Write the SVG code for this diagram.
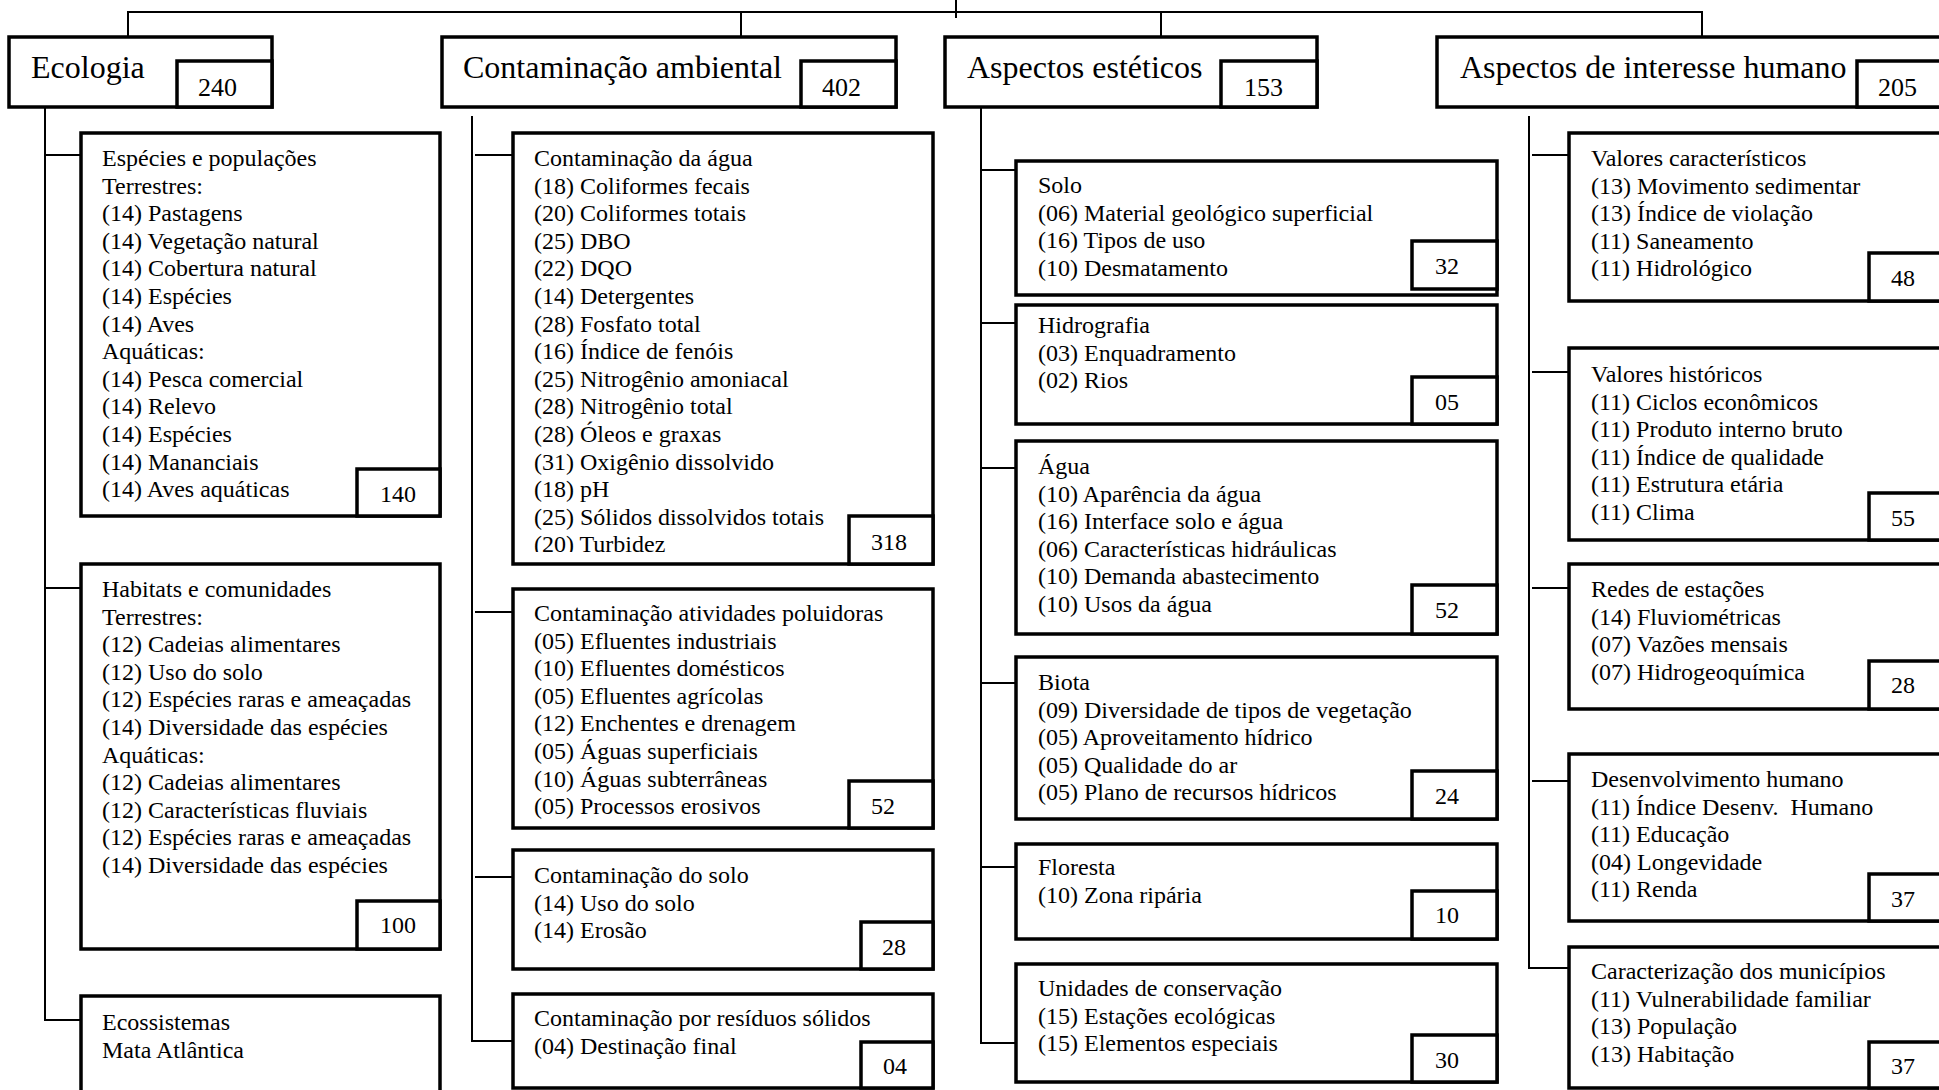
<svg xmlns="http://www.w3.org/2000/svg" width="1939" height="1090" viewBox="0 0 1939 1090">
<style>
.box{fill:#fff;stroke:#000;stroke-width:3.5}
.con{fill:none;stroke:#000;stroke-width:2}
.h{font-family:"Liberation Serif","Times New Roman",serif;font-size:32px;fill:#000}
.hn{font-family:"Liberation Serif","Times New Roman",serif;font-size:26px;fill:#000}
.t{font-family:"Liberation Serif","Times New Roman",serif;font-size:24px;fill:#000;white-space:pre}
.n{font-family:"Liberation Serif","Times New Roman",serif;font-size:24px;fill:#000}
</style>
<defs>
<clipPath id="clipAgua"><rect x="513" y="133" width="420" height="419"/></clipPath>
</defs>
<rect width="1939" height="1090" fill="#fff"/>

<g id="connectors">
<path class="con" d="M956 0 V18 M128 37 V12 H1702 V37 M741 12 V37 M1161 12 V37"/>
<path class="con" d="M45 107 V1020 H81 M45 155 H81 M45 588 H81"/>
<path class="con" d="M472 116 V1041 H513 M475 155 H513 M475 612 H513 M475 877 H513"/>
<path class="con" d="M981 107 V1043 H1016 M981 170 H1016 M981 323 H1016 M981 468 H1016 M981 683 H1016 M981 867 H1016"/>
<path class="con" d="M1529 116 V968 H1569 M1532 155 H1569 M1532 372 H1569 M1532 588 H1569 M1532 781 H1569"/>
</g>

<!-- Ecologia -->
<g id="ecologia">
<rect class="box" x="9" y="37" width="263" height="70"/>
<rect class="box" x="177" y="61" width="95" height="46"/>
<text class="h" x="31" y="78">Ecologia</text>
<text class="hn" x="198" y="96">240</text>
</g>
<g id="especies-populacoes">
<rect class="box" x="81" y="133" width="359" height="383"/>
<rect class="box" x="357" y="469" width="83" height="47"/>
<text class="t" x="102" y="166"><tspan x="102">Espécies e populações</tspan><tspan x="102" dy="27.6">Terrestres:</tspan><tspan x="102" dy="27.6">(14) Pastagens</tspan><tspan x="102" dy="27.6">(14) Vegetação natural</tspan><tspan x="102" dy="27.6">(14) Cobertura natural</tspan><tspan x="102" dy="27.6">(14) Espécies</tspan><tspan x="102" dy="27.6">(14) Aves</tspan><tspan x="102" dy="27.6">Aquáticas:</tspan><tspan x="102" dy="27.6">(14) Pesca comercial</tspan><tspan x="102" dy="27.6">(14) Relevo</tspan><tspan x="102" dy="27.6">(14) Espécies</tspan><tspan x="102" dy="27.6">(14) Mananciais</tspan><tspan x="102" dy="27.6">(14) Aves aquáticas</tspan></text>
<text class="n" x="380" y="502">140</text>
</g>
<g id="habitats-comunidades">
<rect class="box" x="81" y="564" width="359" height="385"/>
<rect class="box" x="357" y="901" width="83" height="48"/>
<text class="t" x="102" y="597"><tspan x="102">Habitats e comunidades</tspan><tspan x="102" dy="27.6">Terrestres:</tspan><tspan x="102" dy="27.6">(12) Cadeias alimentares</tspan><tspan x="102" dy="27.6">(12) Uso do solo</tspan><tspan x="102" dy="27.6">(12) Espécies raras e ameaçadas</tspan><tspan x="102" dy="27.6">(14) Diversidade das espécies</tspan><tspan x="102" dy="27.6">Aquáticas:</tspan><tspan x="102" dy="27.6">(12) Cadeias alimentares</tspan><tspan x="102" dy="27.6">(12) Características fluviais</tspan><tspan x="102" dy="27.6">(12) Espécies raras e ameaçadas</tspan><tspan x="102" dy="27.6">(14) Diversidade das espécies</tspan></text>
<text class="n" x="380" y="933">100</text>
</g>
<g id="ecossistemas">
<rect class="box" x="81" y="996" width="359" height="130"/>
<text class="t" x="102" y="1030"><tspan x="102">Ecossistemas</tspan><tspan x="102" dy="27.6">Mata Atlântica</tspan></text>
</g>

<!-- Contaminação -->
<g id="contaminacao-ambiental">
<rect class="box" x="442" y="37" width="454" height="70"/>
<rect class="box" x="801" y="61" width="95" height="46"/>
<text class="h" x="463" y="78">Contaminação ambiental</text>
<text class="hn" x="822" y="96">402</text>
</g>
<g id="contaminacao-agua">
<rect class="box" x="513" y="133" width="420" height="431"/>
<text class="t" x="534" y="166" clip-path="url(#clipAgua)"><tspan x="534">Contaminação da água</tspan><tspan x="534" dy="27.6">(18) Coliformes fecais</tspan><tspan x="534" dy="27.6">(20) Coliformes totais</tspan><tspan x="534" dy="27.6">(25) DBO</tspan><tspan x="534" dy="27.6">(22) DQO</tspan><tspan x="534" dy="27.6">(14) Detergentes</tspan><tspan x="534" dy="27.6">(28) Fosfato total</tspan><tspan x="534" dy="27.6">(16) Índice de fenóis</tspan><tspan x="534" dy="27.6">(25) Nitrogênio amoniacal</tspan><tspan x="534" dy="27.6">(28) Nitrogênio total</tspan><tspan x="534" dy="27.6">(28) Óleos e graxas</tspan><tspan x="534" dy="27.6">(31) Oxigênio dissolvido</tspan><tspan x="534" dy="27.6">(18) pH</tspan><tspan x="534" dy="27.6">(25) Sólidos dissolvidos totais</tspan><tspan x="534" dy="27.6">(20) Turbidez</tspan></text>
<rect class="box" x="849" y="516" width="84" height="48"/>
<text class="n" x="871" y="550">318</text>
</g>
<g id="contaminacao-atividades">
<rect class="box" x="513" y="589" width="420" height="239"/>
<rect class="box" x="849" y="781" width="84" height="47"/>
<text class="t" x="534" y="621"><tspan x="534">Contaminação atividades poluidoras</tspan><tspan x="534" dy="27.6">(05) Efluentes industriais</tspan><tspan x="534" dy="27.6">(10) Efluentes domésticos</tspan><tspan x="534" dy="27.6">(05) Efluentes agrícolas</tspan><tspan x="534" dy="27.6">(12) Enchentes e drenagem</tspan><tspan x="534" dy="27.6">(05) Águas superficiais</tspan><tspan x="534" dy="27.6">(10) Águas subterrâneas</tspan><tspan x="534" dy="27.6">(05) Processos erosivos</tspan></text>
<text class="n" x="871" y="814">52</text>
</g>
<g id="contaminacao-solo">
<rect class="box" x="513" y="850" width="420" height="119"/>
<rect class="box" x="861" y="922" width="72" height="47"/>
<text class="t" x="534" y="883"><tspan x="534">Contaminação do solo</tspan><tspan x="534" dy="27.6">(14) Uso do solo</tspan><tspan x="534" dy="27.6">(14) Erosão</tspan></text>
<text class="n" x="882" y="955">28</text>
</g>
<g id="contaminacao-residuos">
<rect class="box" x="513" y="994" width="420" height="94"/>
<rect class="box" x="861" y="1042" width="72" height="46"/>
<text class="t" x="534" y="1026"><tspan x="534">Contaminação por resíduos sólidos</tspan><tspan x="534" dy="27.6">(04) Destinação final</tspan></text>
<text class="n" x="883" y="1074">04</text>
</g>

<!-- Aspectos estéticos -->
<g id="aspectos-esteticos">
<rect class="box" x="945" y="37" width="372" height="70"/>
<rect class="box" x="1221" y="61" width="96" height="46"/>
<text class="h" x="967" y="78">Aspectos estéticos</text>
<text class="hn" x="1244" y="96">153</text>
</g>
<g id="solo">
<rect class="box" x="1016" y="161" width="481" height="134"/>
<rect class="box" x="1412" y="241" width="85" height="48"/>
<text class="t" x="1038" y="193"><tspan x="1038">Solo</tspan><tspan x="1038" dy="27.6">(06) Material geológico superficial</tspan><tspan x="1038" dy="27.6">(16) Tipos de uso</tspan><tspan x="1038" dy="27.6">(10) Desmatamento</tspan></text>
<text class="n" x="1435" y="274">32</text>
</g>
<g id="hidrografia">
<rect class="box" x="1016" y="305" width="481" height="119"/>
<rect class="box" x="1412" y="377" width="85" height="47"/>
<text class="t" x="1038" y="333"><tspan x="1038">Hidrografia</tspan><tspan x="1038" dy="27.6">(03) Enquadramento</tspan><tspan x="1038" dy="27.6">(02) Rios</tspan></text>
<text class="n" x="1435" y="410">05</text>
</g>
<g id="agua">
<rect class="box" x="1016" y="441" width="481" height="193"/>
<rect class="box" x="1412" y="585" width="85" height="49"/>
<text class="t" x="1038" y="474"><tspan x="1038">Água</tspan><tspan x="1038" dy="27.6">(10) Aparência da água</tspan><tspan x="1038" dy="27.6">(16) Interface solo e água</tspan><tspan x="1038" dy="27.6">(06) Características hidráulicas</tspan><tspan x="1038" dy="27.6">(10) Demanda abastecimento</tspan><tspan x="1038" dy="27.6">(10) Usos da água</tspan></text>
<text class="n" x="1435" y="618">52</text>
</g>
<g id="biota">
<rect class="box" x="1016" y="657" width="481" height="162"/>
<rect class="box" x="1412" y="771" width="85" height="48"/>
<text class="t" x="1038" y="690"><tspan x="1038">Biota</tspan><tspan x="1038" dy="27.6">(09) Diversidade de tipos de vegetação</tspan><tspan x="1038" dy="27.6">(05) Aproveitamento hídrico</tspan><tspan x="1038" dy="27.6">(05) Qualidade do ar</tspan><tspan x="1038" dy="27.6">(05) Plano de recursos hídricos</tspan></text>
<text class="n" x="1435" y="804">24</text>
</g>
<g id="floresta">
<rect class="box" x="1016" y="844" width="481" height="95"/>
<rect class="box" x="1412" y="891" width="85" height="48"/>
<text class="t" x="1038" y="875"><tspan x="1038">Floresta</tspan><tspan x="1038" dy="27.6">(10) Zona ripária</tspan></text>
<text class="n" x="1435" y="923">10</text>
</g>
<g id="unidades-conservacao">
<rect class="box" x="1016" y="964" width="481" height="118"/>
<rect class="box" x="1412" y="1035" width="85" height="47"/>
<text class="t" x="1038" y="996"><tspan x="1038">Unidades de conservação</tspan><tspan x="1038" dy="27.6">(15) Estações ecológicas</tspan><tspan x="1038" dy="27.6">(15) Elementos especiais</tspan></text>
<text class="n" x="1435" y="1068">30</text>
</g>

<!-- Aspectos de interesse humano -->
<g id="aspectos-interesse-humano">
<rect class="box" x="1437" y="37" width="540" height="70"/>
<rect class="box" x="1857" y="61" width="120" height="46"/>
<text class="h" x="1460" y="78">Aspectos de interesse humano</text>
<text class="hn" x="1878" y="96">205</text>
</g>
<g id="valores-caracteristicos">
<rect class="box" x="1569" y="133" width="400" height="168"/>
<rect class="box" x="1869" y="253" width="100" height="48"/>
<text class="t" x="1591" y="166"><tspan x="1591">Valores característicos</tspan><tspan x="1591" dy="27.6">(13) Movimento sedimentar</tspan><tspan x="1591" dy="27.6">(13) Índice de violação</tspan><tspan x="1591" dy="27.6">(11) Saneamento</tspan><tspan x="1591" dy="27.6">(11) Hidrológico</tspan></text>
<text class="n" x="1891" y="286">48</text>
</g>
<g id="valores-historicos">
<rect class="box" x="1569" y="348" width="400" height="192"/>
<rect class="box" x="1869" y="493" width="100" height="47"/>
<text class="t" x="1591" y="382"><tspan x="1591">Valores históricos</tspan><tspan x="1591" dy="27.6">(11) Ciclos econômicos</tspan><tspan x="1591" dy="27.6">(11) Produto interno bruto</tspan><tspan x="1591" dy="27.6">(11) Índice de qualidade</tspan><tspan x="1591" dy="27.6">(11) Estrutura etária</tspan><tspan x="1591" dy="27.6">(11) Clima</tspan></text>
<text class="n" x="1891" y="526">55</text>
</g>
<g id="redes-estacoes">
<rect class="box" x="1569" y="564" width="400" height="145"/>
<rect class="box" x="1869" y="661" width="100" height="48"/>
<text class="t" x="1591" y="597"><tspan x="1591">Redes de estações</tspan><tspan x="1591" dy="27.6">(14) Fluviométricas</tspan><tspan x="1591" dy="27.6">(07) Vazões mensais</tspan><tspan x="1591" dy="27.6">(07) Hidrogeoquímica</tspan></text>
<text class="n" x="1891" y="693">28</text>
</g>
<g id="desenvolvimento-humano">
<rect class="box" x="1569" y="754" width="400" height="167"/>
<rect class="box" x="1869" y="874" width="100" height="47"/>
<text class="t" x="1591" y="787"><tspan x="1591">Desenvolvimento humano</tspan><tspan x="1591" dy="27.6">(11) Índice Desenv.  Humano</tspan><tspan x="1591" dy="27.6">(11) Educação</tspan><tspan x="1591" dy="27.6">(04) Longevidade</tspan><tspan x="1591" dy="27.6">(11) Renda</tspan></text>
<text class="n" x="1891" y="907">37</text>
</g>
<g id="caracterizacao-municipios">
<rect class="box" x="1569" y="947" width="400" height="141"/>
<rect class="box" x="1869" y="1042" width="100" height="46"/>
<text class="t" x="1591" y="979"><tspan x="1591">Caracterização dos municípios</tspan><tspan x="1591" dy="27.6">(11) Vulnerabilidade familiar</tspan><tspan x="1591" dy="27.6">(13) População</tspan><tspan x="1591" dy="27.6">(13) Habitação</tspan></text>
<text class="n" x="1891" y="1074">37</text>
</g>
</svg>
